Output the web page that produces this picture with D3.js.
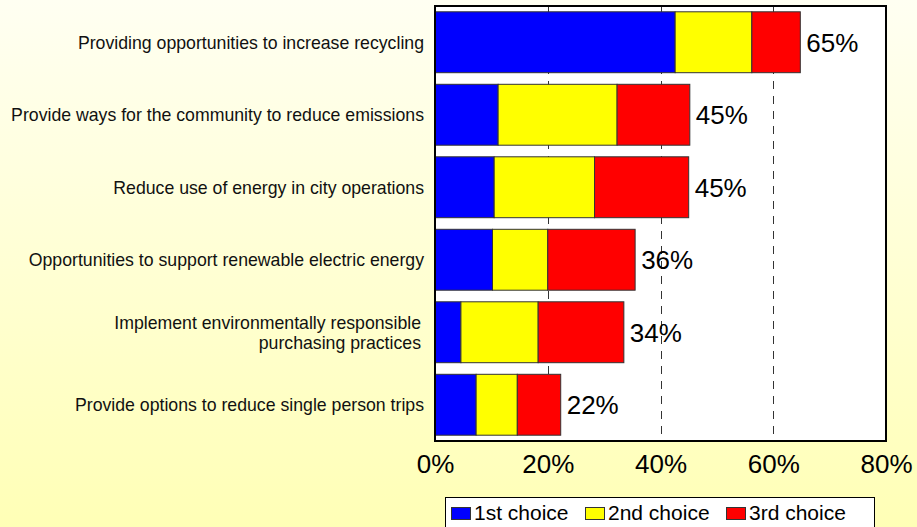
<!DOCTYPE html>
<html>
<head>
<meta charset="utf-8">
<script src="https://cdn.jsdelivr.net/npm/d3@7"></script>
<style>
  html, body { margin: 0; padding: 0; }
  body { width: 917px; height: 527px; overflow: hidden; }
  svg { display: block; font-family: "Liberation Sans", Arial, sans-serif; }
</style>
</head>
<body>
<svg id="chart" width="917" height="527"></svg>
<script>
// ---- Data ----
const categories = [
  "Providing opportunities to increase recycling",
  "Provide ways for the community to reduce emissions",
  "Reduce use of energy in city operations",
  "Opportunities to support renewable electric energy",
  "Implement environmentally responsible\npurchasing practices",
  "Provide options to reduce single person trips"
];
const seriesNames = ["1st choice", "2nd choice", "3rd choice"];
const firstChoice  = [42.6, 11.2, 10.5, 10.2, 4.6, 7.3];
const secondChoice = [13.6, 21.1, 17.8, 9.8, 13.7, 7.3];
const thirdChoice  = [8.6, 12.9, 16.7, 15.5, 15.2, 7.7];
const totalLabels  = ["65%", "45%", "45%", "36%", "34%", "22%"];
const xTicks = [0, 20, 40, 60, 80];
const seriesColors = ["#0000ff", "#ffff00", "#ff0000"];

// ---- Layout ----
const W = 917, H = 527;
const plot = { left: 435, right: 886, top: 6, bottom: 441 };

const svg = d3.select("#chart");

// background gradient
const defs = svg.append("defs");
const grad = defs.append("linearGradient").attr("id", "bg")
  .attr("x1", 0).attr("y1", 0).attr("x2", 0).attr("y2", 1);
grad.append("stop").attr("offset", "0%").attr("stop-color", "#fffff2");
grad.append("stop").attr("offset", "100%").attr("stop-color", "#ffffb6");
svg.append("rect").attr("width", W).attr("height", H).attr("fill", "url(#bg)");

const x = d3.scaleLinear().domain([0, 80]).range([plot.left, plot.right]);
const y = d3.scaleBand().domain(d3.range(categories.length))
  .range([plot.top, plot.bottom]).paddingInner(0.16).paddingOuter(0.08);

// plot background
svg.append("rect")
  .attr("x", plot.left).attr("y", plot.top)
  .attr("width", plot.right - plot.left).attr("height", plot.bottom - plot.top)
  .attr("fill", "#ffffff");

// dashed gridlines
svg.append("g").selectAll("line")
  .data(xTicks.filter(t => t > 0 && t < 80))
  .join("line")
  .attr("x1", d => Math.round(x(d)) + 0.5).attr("x2", d => Math.round(x(d)) + 0.5)
  .attr("y1", plot.top).attr("y2", plot.bottom)
  .attr("stroke", "#333").attr("stroke-width", 1)
  .attr("stroke-dasharray", "8,7");

// stacked bars
const rows = categories.map((c, i) => ({
  i, vals: [firstChoice[i], secondChoice[i], thirdChoice[i]]
}));
const stacked = d3.stack().keys([0, 1, 2]).value((d, k) => d.vals[k])(rows);

svg.append("g").selectAll("g")
  .data(stacked)
  .join("g")
  .attr("fill", (d, k) => seriesColors[k])
  .selectAll("rect")
  .data(d => d)
  .join("rect")
  .attr("x", d => x(d[0]))
  .attr("width", d => x(d[1]) - x(d[0]))
  .attr("y", d => y(d.data.i))
  .attr("height", y.bandwidth())
  .attr("stroke", "#333")
  .attr("stroke-width", 1);

// total labels
svg.append("g").selectAll("text")
  .data(rows)
  .join("text")
  .attr("x", d => x(d3.sum(d.vals)) + 6)
  .attr("y", d => y(d.i) + y.bandwidth() / 2)
  .attr("dy", "0.36em")
  .attr("font-size", 26)
  .attr("fill", "#000")
  .text(d => totalLabels[d.i]);

// category labels
const catG = svg.append("g");
categories.forEach((c, i) => {
  const lines = c.split("\n");
  const cy = y(i) + y.bandwidth() / 2;
  const lh = 20;
  const t = catG.append("text")
    .attr("text-anchor", "end")
    .attr("font-size", 17.7)
    .attr("fill", "#111");
  lines.forEach((ln, j) => {
    t.append("tspan")
      .attr("x", lines.length > 1 ? plot.left - 14 : plot.left - 11)
      .attr("y", cy + (j - (lines.length - 1) / 2) * lh)
      .attr("dy", "0.36em")
      .text(ln);
  });
});

// plot border
svg.append("rect")
  .attr("x", plot.left).attr("y", plot.top)
  .attr("width", plot.right - plot.left).attr("height", plot.bottom - plot.top)
  .attr("fill", "none").attr("stroke", "#000").attr("stroke-width", 2);

// x axis labels
const xAxis = d3.axisBottom(x).tickValues(xTicks).tickSize(0).tickPadding(14)
  .tickFormat(d => d + "%");
const ax = svg.append("g").attr("transform", `translate(0,${plot.bottom})`).call(xAxis);
ax.select(".domain").remove();
ax.selectAll("text").attr("font-size", 26).attr("fill", "#000")
  .attr("font-family", "\"Liberation Sans\", Arial, sans-serif");

// legend
const lg = svg.append("g");
lg.append("rect").attr("x", 445.5).attr("y", 497.5).attr("width", 429).attr("height", 40)
  .attr("fill", "#fff").attr("stroke", "#000").attr("stroke-width", 1);
const legX = [451, 585, 726];
seriesNames.forEach((n, k) => {
  lg.append("rect").attr("x", legX[k] + 0.5).attr("y", 507.5).attr("width", 19).attr("height", 12)
    .attr("fill", seriesColors[k]).attr("stroke", "#333").attr("stroke-width", 1);
  lg.append("text").attr("x", legX[k] + 23).attr("y", 520)
    .attr("font-size", 21).attr("fill", "#000").text(n);
});
</script>
</body>
</html>
